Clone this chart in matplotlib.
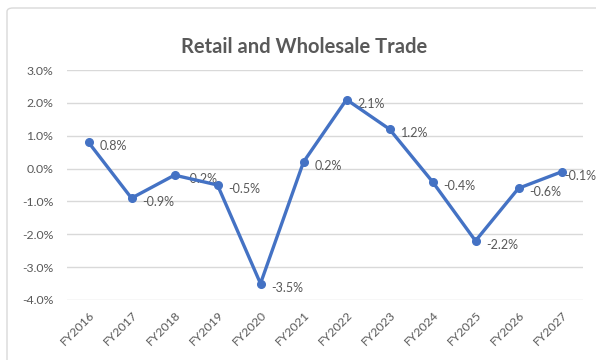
import matplotlib.pyplot as plt
from matplotlib.patches import FancyBboxPatch
from matplotlib.ticker import FuncFormatter

# ======================
# DATA
# ======================
years = ["FY2016", "FY2017", "FY2018", "FY2019", "FY2020", "FY2021",
         "FY2022", "FY2023", "FY2024", "FY2025", "FY2026", "FY2027"]
growth = [0.8, -0.9, -0.2, -0.5, -3.5, 0.2, 2.1, 1.2, -0.4, -2.2, -0.6, -0.1]

TITLE = "Retail and Wholesale Trade"
LINE_COLOR = "#4472C4"
TEXT_COLOR = "#595959"
GRID_COLOR = "#D9D9D9"

plt.rcParams["font.family"] = ["Lato", "DejaVu Sans"]

# ======================
# FIGURE
# ======================
fig = plt.figure(figsize=(5.96, 3.6), dpi=100)

# chart frame, drawn behind everything
frame = FancyBboxPatch((7 / 596, -0.05), 1.2, 1.05 - 8 / 360,
                       boxstyle="round,pad=0,rounding_size=0.01",
                       transform=fig.transFigure, facecolor="white",
                       edgecolor="#D9D9D9", linewidth=1.0, zorder=-5)
fig.patches.append(frame)

ax = fig.add_axes([67 / 596, 1 - 300 / 360, 516 / 596, 230 / 360])
ax.set_facecolor("none")
ax.set_zorder(2)

x = list(range(len(years)))
ax.plot(x, growth, color=LINE_COLOR, linewidth=2.4, marker="o",
        markersize=5.5, zorder=3)

# value labels to the right of each point; the last one sits tight
# against the marker so it stays inside the frame
for xi, v in zip(x, growth):
    dx = 8 if xi < len(years) - 1 else 2
    ax.annotate(f"{v:.1f}%", (xi, v), xytext=(dx, -3),
                textcoords="offset points", ha="left", va="center",
                fontsize=9, color=TEXT_COLOR, zorder=2,
                annotation_clip=False)

ax.set_xlim(-0.5, len(years) - 0.5)
ax.set_ylim(-4, 3)
ax.set_yticks([3, 2, 1, 0, -1, -2, -3, -4])
ax.yaxis.set_major_formatter(FuncFormatter(lambda v, p: f"{v:.1f}%"))
ax.grid(axis="y", color=GRID_COLOR, linewidth=1.0, zorder=1)
ax.set_axisbelow(True)

ax.set_xticks(x)
ax.set_xticklabels(years, rotation=45, ha="right", rotation_mode="anchor")
ax.tick_params(axis="both", length=0, labelsize=8.8, colors=TEXT_COLOR)
ax.tick_params(axis="y", pad=10)
ax.tick_params(axis="x", pad=7)

for side in ["top", "right", "left", "bottom"]:
    ax.spines[side].set_visible(False)

fig.text(0.51, 1 - 47 / 360, TITLE, ha="center", va="center",
         fontsize=14.5, fontweight="bold", color=TEXT_COLOR)

fig.savefig("out.png", dpi=100)
